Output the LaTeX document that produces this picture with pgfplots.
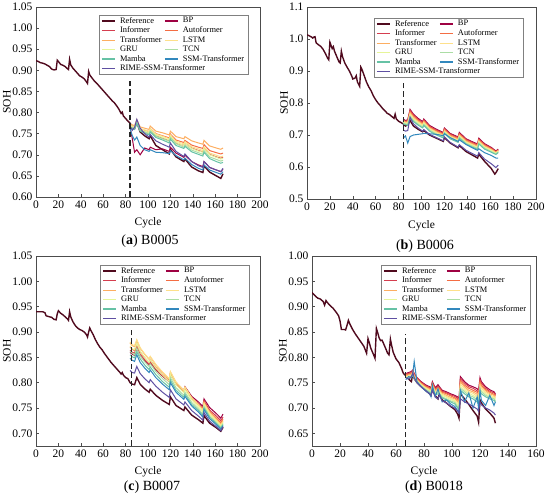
\documentclass[border=0pt]{standalone}
\usepackage{fontspec}
\setmainfont{Liberation Serif}
\usepackage{pgfplots}
\usepackage{pgfplotstable}
\pgfplotsset{compat=1.18}

\definecolor{cRef}{HTML}{500A1E}
\definecolor{cBP}{HTML}{9E0142}
\definecolor{cInf}{HTML}{D53E4F}
\definecolor{cAuto}{HTML}{F46D43}
\definecolor{cTrans}{HTML}{FDAE61}
\definecolor{cLSTM}{HTML}{FEE08B}
\definecolor{cGRU}{HTML}{E6F598}
\definecolor{cTCN}{HTML}{ABDDA4}
\definecolor{cMamba}{HTML}{66C2A5}
\definecolor{cSSM}{HTML}{3288BD}
\definecolor{cRIME}{HTML}{5E4FA2}

% ---------------- (a) B0005 ----------------
\pgfplotstableread{
c s
0 0.923
2 0.921
4 0.918
6 0.917
8 0.915
10 0.912
12 0.909
14 0.903
16 0.901
18 0.902
19 0.924
20 0.921
22 0.914
24 0.912
26 0.909
28 0.904
29 0.902
30 0.926
31 0.913
33 0.905
35 0.899
37 0.893
39 0.887
41 0.884
43 0.880
45 0.873
46 0.869
47 0.897
48 0.889
50 0.882
52 0.875
54 0.870
56 0.864
58 0.858
60 0.852
62 0.846
64 0.840
66 0.834
68 0.828
70 0.823
72 0.816
74 0.808
75 0.803
76 0.798
77 0.801
78 0.792
80 0.786
82 0.780
84 0.775
86 0.766
88 0.762
90 0.777
93 0.754
97 0.745
101 0.738
102 0.745
107 0.722
113 0.712
119 0.702
120 0.713
125 0.695
132 0.684
133 0.690
139 0.671
145 0.662
149 0.658
150 0.674
155 0.659
161 0.650
165 0.644
167 0.655
}\refA

\pgfplotstableread{
c BP Inf Auto Trans LSTM GRU TCN Mamba SSM RIME
84 .765 .765 .768 .772 .770 .768 .766 .764 .762 .768
86 .738 .763 .766 .771 .768 .766 .764 .762 .745 .758
88 .706 .761 .765 .769 .766 .764 .762 .760 .735 .765
90 .712 .775 .779 .783 .780 .778 .776 .774 .742 .784
93 .700 .758 .761 .766 .762 .760 .758 .756 .722 .763
97 .716 .754 .758 .763 .759 .756 .754 .751 .712 .750
101 .712 .750 .755 .760 .755 .752 .750 .747 .708 .742
102 .718 .757 .762 .768 .762 .759 .757 .754 .712 .748
107 .712 .745 .750 .756 .749 .747 .744 .741 .706 .733
113 .714 .739 .745 .752 .744 .741 .738 .735 .705 .725
119 .708 .734 .740 .747 .738 .735 .732 .728 .703 .718
120 .718 .743 .749 .756 .747 .744 .741 .737 .710 .728
125 .704 .728 .735 .743 .732 .729 .726 .722 .698 .708
132 .694 .722 .729 .738 .726 .722 .718 .715 .688 .696
133 .699 .727 .734 .743 .731 .727 .723 .720 .692 .702
139 .684 .716 .723 .733 .719 .715 .711 .707 .677 .684
145 .676 .710 .718 .728 .714 .709 .705 .701 .668 .674
149 .672 .707 .715 .725 .710 .706 .701 .697 .664 .670
150 .684 .716 .724 .734 .719 .715 .710 .706 .676 .684
155 .670 .701 .710 .721 .704 .700 .695 .691 .664 .670
161 .664 .695 .705 .716 .699 .694 .689 .684 .658 .664
165 .660 .692 .702 .713 .695 .690 .685 .680 .654 .660
167 .666 .694 .704 .716 .697 .692 .687 .682 .660 .668
}\predA

% ---------------- (b) B0006 ----------------
\pgfplotstableread{
c s
0 1.013
2 1.010
4 1.006
5 1.003
6 1.006
7 1.007
8 0.988
10 0.982
12 0.977
14 0.968
16 0.955
18 0.940
19 0.935
20 0.990
21 0.980
22 0.970
23 0.976
24 0.962
26 0.945
28 0.928
29 0.925
30 0.962
31 0.945
33 0.925
35 0.912
37 0.900
39 0.885
40 0.875
42 0.878
43 0.885
44 0.866
46 0.852
47 0.912
48 0.905
50 0.885
52 0.865
54 0.850
56 0.838
58 0.822
60 0.810
62 0.800
64 0.792
66 0.783
68 0.776
70 0.768
72 0.764
74 0.758
76 0.752
77 0.765
78 0.750
80 0.743
82 0.739
84 0.735
86 0.728
88 0.732
90 0.745
93 0.728
97 0.718
101 0.710
102 0.714
107 0.700
113 0.690
119 0.680
120 0.692
125 0.675
132 0.660
133 0.667
139 0.648
145 0.636
149 0.628
150 0.640
155 0.618
161 0.595
164 0.578
165 0.582
167 0.595
}\refB

\pgfplotstableread{
c BP Inf Auto Trans LSTM GRU TCN Mamba SSM RIME
84 .750 .748 .746 .744 .742 .740 .737 .735 .690 .716
86 .745 .743 .741 .740 .738 .736 .734 .732 .697 .712
88 .748 .745 .743 .740 .738 .735 .733 .730 .675 .714
90 .780 .777 .773 .770 .766 .763 .759 .755 .695 .755
93 .765 .762 .759 .755 .752 .749 .745 .742 .700 .735
97 .752 .749 .746 .743 .740 .737 .734 .731 .702 .722
101 .742 .739 .736 .734 .731 .728 .725 .722 .704 .712
102 .750 .747 .744 .742 .739 .736 .733 .730 .705 .717
107 .730 .727 .725 .722 .720 .717 .715 .712 .704 .702
113 .718 .715 .713 .710 .708 .705 .703 .700 .702 .692
119 .708 .706 .703 .701 .698 .696 .694 .691 .698 .682
120 .722 .720 .717 .715 .712 .710 .708 .705 .704 .694
125 .705 .703 .700 .698 .695 .693 .691 .688 .692 .677
132 .694 .692 .689 .687 .684 .682 .680 .677 .680 .662
133 .708 .705 .703 .700 .698 .695 .693 .690 .685 .670
139 .688 .686 .683 .681 .678 .676 .674 .671 .670 .652
145 .678 .676 .673 .671 .668 .666 .664 .661 .659 .641
149 .672 .670 .667 .665 .662 .660 .658 .655 .652 .634
150 .690 .687 .685 .682 .680 .677 .675 .672 .657 .645
155 .673 .671 .668 .666 .663 .661 .659 .656 .645 .625
161 .661 .659 .657 .655 .653 .651 .648 .646 .636 .610
165 .650 .648 .647 .645 .644 .642 .641 .639 .628 .598
167 .656 .654 .653 .651 .650 .648 .647 .645 .628 .606
}\predB

% ---------------- (c) B0007 ----------------
\pgfplotstableread{
c s
0 0.940
3 0.940
6 0.940
8 0.938
9 0.932
12 0.930
14 0.929
16 0.925
18 0.924
19 0.936
20 0.942
22 0.937
24 0.934
26 0.930
28 0.926
29 0.923
30 0.940
31 0.930
33 0.920
35 0.913
37 0.908
39 0.905
41 0.903
43 0.900
45 0.895
46 0.890
47 0.900
48 0.908
49 0.903
51 0.895
53 0.885
55 0.877
57 0.870
59 0.865
61 0.858
63 0.852
65 0.846
67 0.840
69 0.835
71 0.830
73 0.825
75 0.820
76 0.817
77 0.820
78 0.815
80 0.810
82 0.808
84 0.800
86 0.797
88 0.796
90 0.810
93 0.797
97 0.788
101 0.781
102 0.787
107 0.775
113 0.765
119 0.757
120 0.772
125 0.755
132 0.745
133 0.752
139 0.736
145 0.727
149 0.720
150 0.735
155 0.720
161 0.711
165 0.704
167 0.712
}\refC

\pgfplotstableread{
c BP Inf Auto Trans LSTM GRU TCN Mamba SSM RIME
84 .860 .864 .870 .878 .880 .872 .862 .855 .848 .824
86 .856 .860 .866 .873 .875 .867 .858 .851 .844 .820
88 .854 .858 .863 .871 .873 .865 .855 .849 .842 .819
90 .868 .871 .876 .883 .885 .877 .868 .861 .855 .832
93 .853 .856 .861 .868 .869 .862 .853 .847 .840 .818
97 .843 .845 .849 .856 .857 .850 .841 .835 .829 .808
101 .834 .836 .840 .846 .847 .840 .832 .826 .820 .800
102 .840 .841 .845 .851 .852 .845 .837 .831 .825 .806
107 .825 .827 .830 .835 .836 .829 .822 .816 .810 .793
113 .813 .813 .816 .820 .821 .815 .808 .802 .797 .781
119 .802 .802 .804 .807 .808 .802 .796 .791 .786 .771
120 .817 .817 .818 .821 .822 .816 .810 .805 .800 .786
125 .798 .797 .798 .801 .801 .796 .790 .785 .781 .768
132 .785 .783 .783 .785 .785 .780 .775 .771 .767 .756
133 .792 .790 .790 .791 .791 .786 .781 .777 .773 .762
139 .773 .770 .770 .770 .770 .766 .761 .757 .754 .745
145 .762 .758 .757 .757 .756 .752 .748 .745 .742 .734
149 .753 .749 .747 .746 .745 .742 .738 .735 .732 .726
150 .768 .764 .762 .761 .759 .756 .753 .750 .747 .741
155 .751 .746 .743 .742 .740 .737 .734 .732 .729 .724
161 .739 .734 .730 .728 .726 .724 .721 .719 .717 .713
165 .730 .725 .721 .718 .716 .714 .712 .710 .708 .705
167 .738 .732 .728 .725 .723 .721 .719 .717 .715 .713
}\predC

% ---------------- (d) B0018 ----------------
\pgfplotstableread{
c s
0 0.928
2 0.922
4 0.917
6 0.915
8 0.910
9 0.903
10 0.912
11 0.908
13 0.902
15 0.897
17 0.890
19 0.882
20 0.872
21 0.855
23 0.855
24 0.854
25 0.863
26 0.873
27 0.866
29 0.855
31 0.846
33 0.838
35 0.830
37 0.822
39 0.808
40 0.837
41 0.828
42 0.818
44 0.805
45 0.798
46 0.857
47 0.848
48 0.838
49 0.833
50 0.834
51 0.828
53 0.815
54 0.808
55 0.805
56 0.836
57 0.822
58 0.810
60 0.797
62 0.790
64 0.778
65 0.770
66 0.766
67 0.764
69 0.757
71 0.752
72 0.768
73 0.758
75 0.750
78 0.742
81 0.735
84 0.728
85 0.725
86 0.738
88 0.724
90 0.718
91 0.730
93 0.716
96 0.710
99 0.703
102 0.697
104 0.688
105 0.680
106 0.728
109 0.718
112 0.707
115 0.695
118 0.684
119 0.672
120 0.716
121 0.710
124 0.698
127 0.690
130 0.680
131 0.670
}\refD

\pgfplotstableread{
c BP Inf Auto Trans LSTM GRU TCN Mamba SSM RIME
67 .768 .767 .765 .764 .762 .761 .760 .758 .756 .760
69 .770 .768 .767 .765 .763 .762 .760 .758 .762 .757
71 .772 .770 .769 .767 .765 .764 .762 .760 .760 .762
72 .775 .774 .772 .771 .769 .768 .767 .765 .768 .770
73 .768 .767 .765 .764 .762 .761 .760 .758 .792 .760
75 .760 .759 .757 .756 .754 .753 .752 .750 .752 .750
78 .752 .751 .749 .748 .746 .745 .744 .742 .742 .742
81 .746 .744 .743 .741 .740 .738 .737 .735 .734 .735
84 .742 .740 .739 .737 .735 .734 .732 .730 .728 .728
85 .740 .738 .736 .735 .733 .731 .729 .727 .722 .725
86 .752 .750 .748 .746 .744 .742 .740 .738 .745 .735
88 .740 .738 .736 .734 .732 .730 .728 .726 .722 .722
90 .746 .743 .741 .738 .736 .733 .731 .728 .738 .718
91 .742 .740 .738 .735 .733 .731 .728 .726 .728 .726
93 .735 .733 .731 .729 .727 .725 .722 .720 .712 .714
96 .732 .730 .728 .725 .723 .721 .718 .716 .716 .710
99 .728 .726 .724 .721 .719 .717 .714 .712 .708 .704
102 .725 .723 .720 .718 .715 .713 .711 .708 .703 .700
104 .722 .719 .716 .713 .710 .707 .703 .700 .695 .694
105 .718 .715 .712 .709 .706 .703 .699 .696 .690 .690
106 .762 .758 .754 .751 .747 .743 .739 .735 .735 .718
109 .752 .749 .745 .742 .739 .735 .732 .728 .712 .712
112 .745 .742 .739 .735 .732 .729 .725 .722 .730 .708
115 .742 .739 .735 .732 .729 .725 .722 .718 .700 .703
118 .738 .734 .731 .727 .723 .720 .716 .712 .722 .698
119 .735 .731 .727 .724 .720 .716 .712 .708 .698 .693
120 .760 .756 .752 .748 .744 .740 .736 .732 .735 .712
121 .752 .749 .745 .742 .739 .735 .732 .728 .715 .706
124 .742 .739 .736 .734 .731 .728 .725 .722 .705 .700
127 .736 .733 .731 .728 .726 .723 .721 .718 .725 .696
130 .732 .730 .727 .725 .722 .720 .718 .715 .705 .690
131 .728 .726 .724 .721 .719 .717 .714 .712 .712 .686
}\predD

\pgfplotsset{
  pl/.style={line width=1.0pt, mark=none},
  refl/.style={line width=1.4pt, mark=none, color=cRef},
  dashl/.style={black!85, line width=1.2pt, dash pattern=on 5.5pt off 3pt, forget plot},
  soh/.style={
    scale only axis, anchor=south west,
    width=224pt, height=190pt,
    xmin=0, xmax=200, xtick={0,20,...,200},
    axis line style={black!70, line width=0.6pt},
    tick style={black!70, line width=0.5pt},
    tick align=inside, tick pos=left, major tick length=3pt,
    /pgf/number format/assume math mode=true,
    tick label style={font=\fontsize{11.5}{12}\selectfont},
    label style={font=\fontsize{11.5}{12}\selectfont},
    xlabel={Cycle}, ylabel={SOH},
    xlabel style={at={(axis description cs:0.5,-0.137)}, anchor=center},
    ylabel style={at={(axis description cs:-0.13,0.5)}, anchor=center},
    legend columns=2, legend cell align=left,
    legend image code/.code={\draw[##1, line width=1.2pt] (0pt,0pt) -- (13pt,0pt);},
    legend style={draw=black!50, line width=0.4pt, fill=white,
      font=\fontsize{8.4}{9}\selectfont, inner xsep=2pt, inner ysep=1pt,
      nodes={inner xsep=1.5pt, inner ysep=1.1pt},
      /tikz/every odd column/.append style={column sep=3pt},
      /tikz/every even column/.append style={column sep=1pt}},
    legend entries={Reference,BP,Informer,Autoformer,Transformer,LSTM,GRU,TCN,Mamba,SSM-Transformer,\makebox[0pt][l]{RIME-SSM-Transformer}},
  },
}

\newcommand{\drawall}[2]{%
  \addplot[refl] table[x=c,y=s]{#1};
  \addplot[pl,color=cBP] table[x=c,y=BP]{#2};
  \addplot[pl,color=cInf] table[x=c,y=Inf]{#2};
  \addplot[pl,color=cAuto] table[x=c,y=Auto]{#2};
  \addplot[pl,color=cTrans] table[x=c,y=Trans]{#2};
  \addplot[pl,color=cLSTM] table[x=c,y=LSTM]{#2};
  \addplot[pl,color=cGRU] table[x=c,y=GRU]{#2};
  \addplot[pl,color=cTCN] table[x=c,y=TCN]{#2};
  \addplot[pl,color=cMamba] table[x=c,y=Mamba]{#2};
  \addplot[pl,color=cSSM] table[x=c,y=SSM]{#2};
  \addplot[pl,color=cRIME] table[x=c,y=RIME]{#2};
}

\begin{document}
\begin{tikzpicture}
\path[use as bounding box] (0pt,0pt) rectangle (550pt,498pt);

% (a)
\begin{axis}[soh, at={(36pt,301pt)},
  ymin=0.60, ymax=1.05, ytick={0.60,0.65,0.70,0.75,0.80,0.85,0.90,0.95,1.00,1.05},
  yticklabel style={/pgf/number format/fixed, /pgf/number format/fixed zerofill, /pgf/number format/precision=2},
  legend style={at={(0.946,0.958)}, anchor=north east}]
\drawall{\refA}{\predA}
\addplot[dashl] coordinates {(84,0.60) (84,0.878)};
\end{axis}

% (b)
\begin{axis}[soh, at={(307pt,299pt)}, width=229pt, height=192pt,
  ymin=0.5, ymax=1.1, ytick={0.5,0.6,0.7,0.8,0.9,1.0,1.1},
  yticklabel style={/pgf/number format/fixed, /pgf/number format/fixed zerofill, /pgf/number format/precision=1},
  ylabel style={at={(axis description cs:-0.1,0.5)}, anchor=center},
  legend style={at={(0.943,0.943)}, anchor=north east}]
\drawall{\refB}{\predB}
\addplot[dashl] coordinates {(84,0.5) (84,0.862)};
\end{axis}

% (c)
\begin{axis}[soh, at={(36pt,52pt)},
  ymin=0.675, ymax=1.05, ytick={0.70,0.75,0.80,0.85,0.90,0.95,1.00,1.05},
  yticklabel style={/pgf/number format/fixed, /pgf/number format/fixed zerofill, /pgf/number format/precision=2},
  legend style={at={(0.951,0.953)}, anchor=north east}]
\drawall{\refC}{\predC}
\addplot[dashl] coordinates {(85,0.675) (85,0.904)};
\end{axis}

% (d)
\begin{axis}[soh, at={(312pt,52pt)},
  xmax=160, xtick={0,20,...,160},
  ymin=0.625, ymax=1.00, ytick={0.65,0.70,0.75,0.80,0.85,0.90,0.95,1.00},
  yticklabel style={/pgf/number format/fixed, /pgf/number format/fixed zerofill, /pgf/number format/precision=2},
  legend style={at={(0.973,0.953)}, anchor=north east}]
\drawall{\refD}{\predD}
\addplot[dashl] coordinates {(67,0.625) (67,0.847)};
\end{axis}

\node[font=\fontsize{14}{16}\selectfont] at (150pt,257pt) {(\textbf{a}) B0005};
\node[font=\fontsize{14}{16}\selectfont] at (425pt,252pt) {(\textbf{b}) B0006};
\node[font=\fontsize{14}{16}\selectfont] at (152pt,11pt) {(\textbf{c}) B0007};
\node[font=\fontsize{14}{16}\selectfont] at (434pt,11pt) {(\textbf{d}) B0018};
\end{tikzpicture}
\end{document}
